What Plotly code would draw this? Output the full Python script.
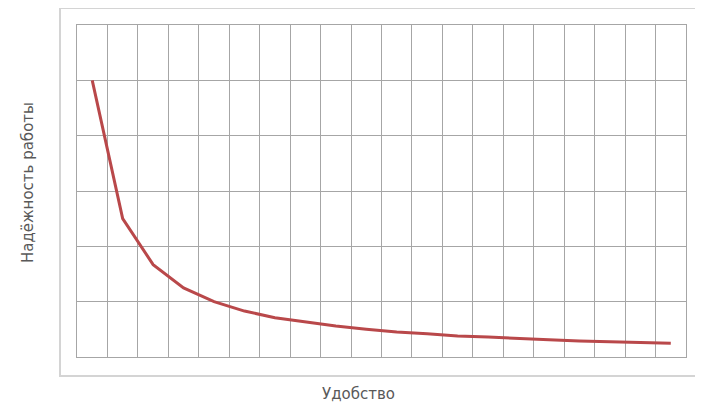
import plotly.graph_objects as go

categories = [str(i) for i in range(1, 21)]
reliability = [5.0, 2.5, 1.67, 1.25, 1.0, 0.83, 0.71, 0.63, 0.56, 0.5,
               0.45, 0.42, 0.38, 0.36, 0.33, 0.31, 0.29, 0.28, 0.26, 0.25]

OFF = 8  # default page body margin
W, H = 703 - OFF, 406 - OFF
# plot area in page pixels: x 77..686, y 25..357
L, T = 77 - OFF, 25 - OFF
R = W - (686 - OFF)
B = H - (357 - OFF)
pw, ph = W - L - R, H - T - B

def px(xp):
    return (xp - 77) / pw

def py(yp):
    return (357 - yp) / ph

fig = go.Figure(go.Scatter(
    x=categories, y=reliability, mode="lines",
    line=dict(color="#b9484a", width=3), hoverinfo="skip"))

grid = "#a6a6a6"
tfont = dict(family="DejaVu Sans, sans-serif", size=15, color="#595959")
fig.update_layout(
    width=W, height=H, margin=dict(l=L, r=R, t=T, b=B),
    paper_bgcolor="white", plot_bgcolor="white", showlegend=False,
    font=tfont,
    xaxis=dict(type="category", tickson="boundaries", range=[-0.5, 19.5],
               showticklabels=False, ticks="", showgrid=True, gridcolor=grid, gridwidth=1,
               showline=True, linecolor=grid, mirror=True, zeroline=False),
    yaxis=dict(range=[0, 6], dtick=1, showticklabels=False, ticks="",
               showgrid=True, gridcolor=grid, gridwidth=1,
               showline=True, linecolor=grid, mirror=True, zeroline=False),
    annotations=[
        dict(text="Удобство", xref="paper", yref="paper", x=px(358), y=py(394),
             xanchor="center", yanchor="middle", showarrow=False, font=tfont),
        dict(text="Надёжность работы", xref="paper", yref="paper", x=px(28), y=py(183),
             xanchor="center", yanchor="middle", textangle=-90, showarrow=False, font=tfont),
    ],
    shapes=[dict(type="rect", xref="paper", yref="paper",
                 x0=px(60), x1=px(710), y0=py(376), y1=py(8),
                 line=dict(color="#d4d4d4", width=2), fillcolor="rgba(0,0,0,0)", layer="below")],
)

fig.write_html("out.html")
